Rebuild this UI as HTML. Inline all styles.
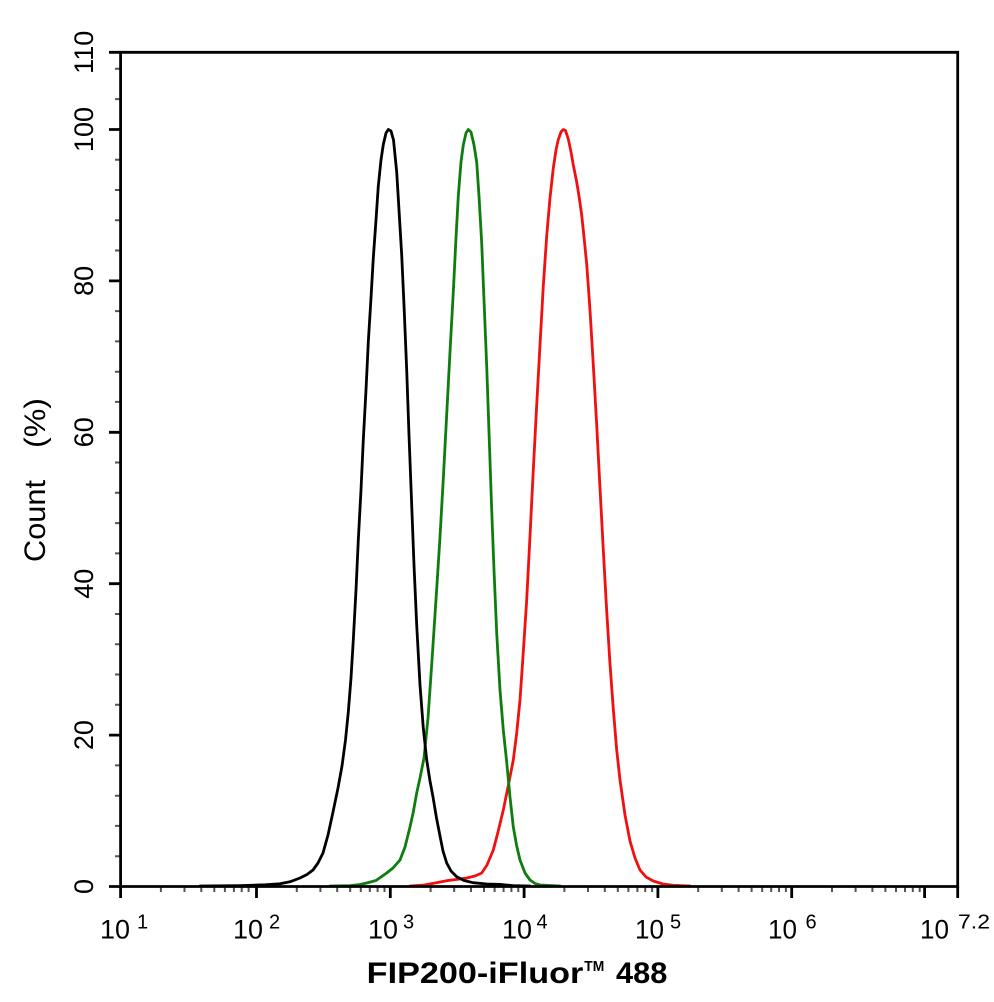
<!DOCTYPE html>
<html>
<head>
<meta charset="utf-8">
<style>
html,body{margin:0;padding:0;background:#fff}
svg{display:block}
text{font-family:"Liberation Sans",Arial,sans-serif;fill:#000}
</style>
</head>
<body>
<svg width="994" height="1002" viewBox="0 0 994 1002" xmlns="http://www.w3.org/2000/svg">
<rect width="994" height="1002" fill="#fff"/>
<g stroke="#555" stroke-width="2">
<path d="M115 856.2H120M115 825.9H120M115 795.7H120M115 765.4H120M115 704.8H120M115 674.5H120M115 644.2H120M115 614H120M115 553.4H120M115 523.1H120M115 492.8H120M115 462.5H120M115 401.9H120M115 371.7H120M115 341.4H120M115 311.1H120M115 250.5H120M115 220.2H120M115 190H120M115 159.7H120M115 99.1H120M115 68.8H120"/>
<path transform="translate(120.6,0)" d="M40.3 887V892M63.9 887V892M80.7 887V892M93.7 887V892M104.3 887V892M113.3 887V892M121.1 887V892M128 887V892"/>
<path transform="translate(256.5,0)" d="M40.3 887V892M63.9 887V892M80.7 887V892M93.7 887V892M104.3 887V892M113.3 887V892M121.1 887V892M128 887V892"/>
<path transform="translate(390.3,0)" d="M40.3 887V892M63.9 887V892M80.7 887V892M93.7 887V892M104.3 887V892M113.3 887V892M121.1 887V892M128 887V892"/>
<path transform="translate(524.1,0)" d="M40.3 887V892M63.9 887V892M80.7 887V892M93.7 887V892M104.3 887V892M113.3 887V892M121.1 887V892M128 887V892"/>
<path transform="translate(657.9,0)" d="M40.3 887V892M63.9 887V892M80.7 887V892M93.7 887V892M104.3 887V892M113.3 887V892M121.1 887V892M128 887V892"/>
<path transform="translate(791.7,0)" d="M40.3 887V892M63.9 887V892M80.7 887V892M93.7 887V892M104.3 887V892M113.3 887V892M121.1 887V892M128 887V892"/>
</g>
<g stroke="#000" stroke-width="2.8">
<path d="M109 886.5H121M109 735.1H121M109 583.7H121M109 432.3H121M109 280.9H121M109 129.5H121M109 52.3H121"/>
<path d="M120.6 886V898M256.5 886V898M390.3 886V898M524.1 886V898M657.9 886V898M791.7 886V898M924.6 886V898M957.7 886V898"/>
</g>
<g fill="none" stroke-width="2.8" stroke-linejoin="round" stroke-linecap="round">
<polyline stroke="#f01010" points="410,886 423,885.2 435,883 446.7,880.7 456,879.5 466.7,878 475,876 481.7,873 487,865 493.3,850 498,832 503.3,810 508,787 513.3,760 516.7,733 520,700 523.3,652 526.7,600 530,536 533.3,470 536.7,405 540,345 543.3,286 546.7,236 550,198 553.3,168 556,150 558.3,139.6 561,132 563.3,129.5 565.5,130.5 568.3,139 571,152 573.3,165 576.7,182 579,196 581.7,215 584,237 586.7,264 590,310 593.3,365 596.7,425 600,488 603.3,550 606.7,611 610,664 613.3,709 616.7,750 620,780 625,815 630,841 635,858 640,870 646,877 653.3,881 663,884 673,885.3 690,886"/>
<polyline stroke="#0e7d0e" points="330,886 350,885.6 360,884.5 366.7,883 376,880.5 386.7,873 393,868 400,860 405,847 410,827 413.3,812 416.7,793 420,778 424,758 428,718 430.5,682 433,645 436.5,592 440,537 443.5,475 446.7,414.5 450,352 453.3,292 456,238 458.3,196 461,162 463.3,145 466,133 468.3,129.5 471,132 474,145 476.7,162 479,196 481.7,243 484,300 486.7,366 489,432 491.7,510 494,570 496.7,633 500,690 503.3,730 506.7,762 510,797 513.3,827 516.7,846 520,860 525,873 530,880 535,883.5 540,885 560,886"/>
<polyline stroke="#000" points="200,886 240,885.6 265,884.8 280,883.8 290,881.8 300,878 307,874.5 313,870 318,863 323,853 328,835 333,812 338,788 342,766 345.5,740 348.3,712 351,678 353.3,640 356,590 358.3,540 361,490 363.3,440 366,390 368.3,342 371,298 373.3,258 376,220 378.3,186 381,160 383.3,144.5 386,133 388.3,129.5 391,131 393.5,140 396.7,172 399,210 401.7,255 404,305 406.7,370 409,435 411.7,505 414,565 416.7,625 420,685 423.3,728 426.7,760 430,781 433,797 436.5,818 440,836 443,851 446.7,863 451,871 456.7,876.7 464,880.5 473,882.7 486.7,884 500,884.4 513,885.6 530,886"/>
</g>
<g stroke="#000" stroke-width="2.8" fill="none">
<path d="M120.6 51V887.8M119.3 886.5H959M119.3 52.3H959M957.7 51V887.8"/>
</g>
<g font-size="27" text-anchor="middle">
<text transform="translate(93,886.5) rotate(-90)">0</text>
<text transform="translate(93,735.1) rotate(-90)">20</text>
<text transform="translate(93,583.7) rotate(-90)">40</text>
<text transform="translate(93,432.3) rotate(-90)">60</text>
<text transform="translate(93,280.9) rotate(-90)">80</text>
<text transform="translate(93,129.5) rotate(-90)">100</text>
<text transform="translate(93,52.3) rotate(-90)">110</text>
</g>
<text font-size="30" transform="translate(45,562) rotate(-90)" textLength="82" lengthAdjust="spacingAndGlyphs">Count</text>
<text font-size="30" transform="translate(45,448) rotate(-90)" textLength="50" lengthAdjust="spacingAndGlyphs">(%)</text>
<g font-size="27">
<text x="100" y="938.5" textLength="30" lengthAdjust="spacingAndGlyphs">10</text>
<text x="137" y="928.5" font-size="20">1</text>
<text x="233" y="938.5" textLength="30" lengthAdjust="spacingAndGlyphs">10</text>
<text x="269" y="928.5" font-size="20">2</text>
<text x="368" y="938.5" textLength="30" lengthAdjust="spacingAndGlyphs">10</text>
<text x="403" y="928.5" font-size="20">3</text>
<text x="502" y="938.5" textLength="30" lengthAdjust="spacingAndGlyphs">10</text>
<text x="536.5" y="928.5" font-size="20">4</text>
<text x="635" y="938.5" textLength="29" lengthAdjust="spacingAndGlyphs">10</text>
<text x="670" y="928.5" font-size="20">5</text>
<text x="768" y="938.5" textLength="29" lengthAdjust="spacingAndGlyphs">10</text>
<text x="805.5" y="928.5" font-size="20">6</text>
<text x="920" y="938.5" textLength="29" lengthAdjust="spacingAndGlyphs">10</text>
<text x="958" y="928.5" font-size="20" textLength="32" lengthAdjust="spacingAndGlyphs">7.2</text>
</g>
<g font-weight="bold">
<text x="366.7" y="983" font-size="30" textLength="216.6" lengthAdjust="spacingAndGlyphs">FIP200-iFluor</text>
<text x="584.3" y="971" font-size="15" textLength="20" lengthAdjust="spacingAndGlyphs">TM</text>
<text x="616" y="983" font-size="30" textLength="51.3" lengthAdjust="spacingAndGlyphs">488</text>
</g>
</svg>
</body>
</html>
